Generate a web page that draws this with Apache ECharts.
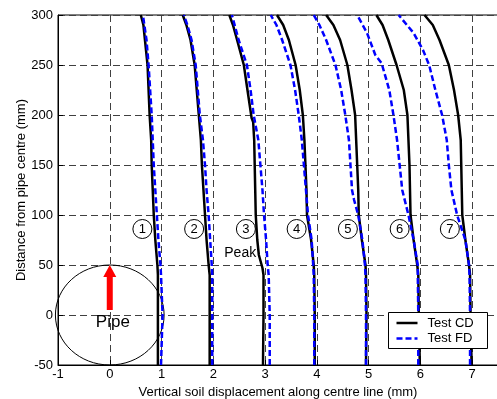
<!DOCTYPE html>
<html><head><meta charset="utf-8">
<script src="https://cdn.jsdelivr.net/npm/echarts@6/dist/echarts.min.js"></script>
<style>html,body{margin:0;padding:0;background:#fff}#c{width:497px;height:399px}</style>
</head><body><div id="c"></div>
<script>
// [displacement (mm), distance (mm)]
const CD1 = [[0.93,-50],[0.93,0],[0.93,40],[0.92,50],[0.88,75],[0.85,100],[0.83,125],[0.81,150],[0.80,175],[0.77,200],[0.75,225],[0.73,250],[0.68,275],[0.65,290],[0.60,300]];
const FD1 = [[0.99,-50],[1.02,0],[0.99,40],[0.98,50],[0.94,75],[0.91,100],[0.88,125],[0.85,150],[0.83,175],[0.81,200],[0.78,225],[0.75,250],[0.71,275],[0.64,300]];
const CD2 = [[1.93,-50],[1.93,0],[1.93,40],[1.91,50],[1.87,75],[1.84,100],[1.81,125],[1.78,150],[1.76,175],[1.72,200],[1.68,225],[1.64,250],[1.56,275],[1.48,290],[1.41,300]];
const FD2 = [[1.98,-50],[1.98,0],[1.98,40],[1.97,50],[1.94,75],[1.91,100],[1.87,125],[1.84,150],[1.80,175],[1.74,200],[1.70,225],[1.66,250],[1.58,275],[1.50,290],[1.43,300]];
const CD3 = [[2.96,-50],[2.97,0],[2.97,40],[2.95,47],[2.88,60],[2.85,75],[2.82,100],[2.81,125],[2.80,150],[2.79,175],[2.77,193],[2.74,197],[2.66,225],[2.59,250],[2.46,275],[2.38,290],[2.31,300]];
const FD3 = [[3.09,-50],[3.09,0],[3.07,40],[3.05,50],[3.02,75],[2.98,100],[2.95,125],[2.91,150],[2.87,175],[2.78,200],[2.72,225],[2.65,250],[2.49,275],[2.36,300]];
const CD4 = [[3.96,-50],[3.96,0],[3.95,40],[3.94,50],[3.89,75],[3.81,100],[3.80,125],[3.78,150],[3.76,175],[3.73,200],[3.67,225],[3.59,250],[3.46,275],[3.35,290],[3.23,300]];
const FD4 = [[3.95,-50],[3.95,0],[3.94,40],[3.93,50],[3.90,75],[3.83,100],[3.79,125],[3.75,150],[3.71,175],[3.65,200],[3.58,225],[3.49,250],[3.33,275],[3.22,290],[3.11,300]];
const CD5 = [[4.95,-50],[4.96,0],[4.95,40],[4.94,50],[4.87,75],[4.81,100],[4.80,125],[4.78,150],[4.76,175],[4.74,200],[4.67,225],[4.59,250],[4.45,275],[4.32,290],[4.18,300]];
const FD5 = [[4.95,-50],[4.95,0],[4.94,40],[4.93,50],[4.88,75],[4.80,100],[4.72,115],[4.68,125],[4.65,150],[4.62,175],[4.55,200],[4.47,225],[4.36,250],[4.18,275],[4.05,290],[3.94,300]];
const CD6 = [[5.99,-50],[5.97,0],[5.96,40],[5.94,50],[5.87,75],[5.81,100],[5.80,125],[5.79,150],[5.77,175],[5.75,200],[5.68,225],[5.54,250],[5.38,275],[5.27,290],[5.15,300]];
const FD6 = [[5.96,-50],[5.96,0],[5.95,40],[5.95,50],[5.87,75],[5.77,100],[5.65,125],[5.60,150],[5.55,175],[5.48,200],[5.40,225],[5.25,252],[5.13,260],[4.97,282],[4.78,300]];
const CD7 = [[6.99,-50],[6.97,0],[6.96,40],[6.94,50],[6.87,75],[6.81,100],[6.80,125],[6.79,150],[6.78,175],[6.73,200],[6.65,225],[6.55,250],[6.37,275],[6.24,290],[6.08,300]];
const FD7 = [[6.96,-50],[6.96,0],[6.95,40],[6.94,50],[6.87,75],[6.71,100],[6.60,125],[6.55,150],[6.51,175],[6.42,200],[6.29,225],[6.17,250],[6.05,265],[5.87,282],[5.58,300]];

const circleLabels = ['1','2','3','4','5','6','7'];
const circleX = [0.63,1.63,2.63,3.61,4.60,5.60,6.57];
const circleY = [86,86,86,86,86,86,86];
const pipeEllipse = [0, 0, 1.05, 50];      // centre x, centre y, radius x, radius y
const arrowBase = [0, 5];
const arrowTip = [0, 50];
const notes = [[2.52, 62, 'Peak', 14], [0.06, -7, 'Pipe', 17]];

const xName = 'Vertical soil displacement along centre line (mm)';
const yName = 'Distance from pipe centre (mm)';
const legendNames = ['Test CD', 'Test FD'];

const FONT = '"Liberation Sans", Arial, Helvetica, sans-serif';
const chart = echarts.init(document.getElementById('c'));
const cdSets = [CD1, CD2, CD3, CD4, CD5, CD6, CD7];
const fdSets = [FD1, FD2, FD3, FD4, FD5, FD6, FD7];
const cdStyle = { color: '#000', width: 2.5 };
const fdStyle = { color: '#0000ff', width: 2.5, type: [6, 3] };
const series = [];

series.push({
  type: 'custom', silent: true, z: 1, clip: false,
  data: [pipeEllipse],
  renderItem: (p, api) => {
    const c = api.coord([api.value(0), api.value(1)]);
    const rx = api.size([api.value(2), 0])[0];
    const ry = api.size([0, api.value(3)])[1];
    return { type: 'ellipse', shape: { cx: c[0], cy: c[1], rx: rx, ry: ry },
      style: { fill: null, stroke: '#000', lineWidth: 1 } };
  }
});

cdSets.forEach(d => series.push({
  type: 'line', name: legendNames[0], data: d, symbol: 'none', z: 3,
  lineStyle: cdStyle, itemStyle: { color: '#000' }
}));
fdSets.forEach(d => series.push({
  type: 'line', name: legendNames[1], data: d, symbol: 'none', z: 4,
  lineStyle: fdStyle, itemStyle: { color: '#0000ff' }
}));

series.push({
  type: 'custom', silent: true, z: 5, clip: false,
  data: [[arrowBase[0], arrowBase[1], arrowTip[0], arrowTip[1]]],
  renderItem: (p, api) => {
    const b = api.coord([api.value(0), api.value(1)]);
    const t = api.coord([api.value(2), api.value(3)]);
    const hl = 12, sh = 3, hh = 6.5;
    return { type: 'polygon', shape: { points: [
      [b[0]-sh, b[1]], [b[0]-sh, t[1]+hl], [t[0]-hh, t[1]+hl], [t[0], t[1]],
      [t[0]+hh, t[1]+hl], [b[0]+sh, t[1]+hl], [b[0]+sh, b[1]] ] },
      style: { fill: '#ff0000', stroke: null } };
  }
});

series.push({
  type: 'custom', silent: true, z: 6, clip: false,
  data: circleX.map((x, i) => [x, circleY[i]]),
  renderItem: (p, api) => {
    const c = api.coord([api.value(0), api.value(1)]);
    return { type: 'group', children: [
      { type: 'circle', shape: { cx: c[0], cy: c[1], r: 9.5 }, style: { fill: null, stroke: '#000', lineWidth: 1 } },
      { type: 'text', x: c[0], y: c[1] + 0.5, style: { text: circleLabels[p.dataIndex], font: '13px ' + FONT, fill: '#000', align: 'center', verticalAlign: 'middle' } }
    ] };
  }
});

series.push({
  type: 'custom', silent: true, z: 6, clip: false,
  data: notes.map(n => [n[0], n[1]]),
  renderItem: (p, api) => {
    const c = api.coord([api.value(0), api.value(1)]);
    const n = notes[p.dataIndex];
    return { type: 'text', x: c[0], y: c[1], style: { text: n[2], font: n[3] + 'px ' + FONT, fill: '#000', align: 'center', verticalAlign: 'middle' } };
  }
});

const axisCommon = {
  type: 'value',
  axisLine: { show: true, onZero: false, lineStyle: { color: '#000', width: 1 } },
  axisTick: { show: true, inside: true, length: 5, lineStyle: { color: '#000' } },
  splitLine: { show: true, lineStyle: { color: '#404040', width: 1, type: [7, 4] } },
  nameLocation: 'middle',
  nameTextStyle: { color: '#000', fontSize: 13, fontFamily: FONT }
};

// legend box drawn as graphic (pixel layout)
const LG = { x: 388, y: 312, w: 99, h: 36 };
const legendGraphic = {
  type: 'group', left: LG.x, top: LG.y, zlevel: 1, z: 100, children: [
    { type: 'rect', z: 100, shape: { x: 0, y: 0, width: LG.w, height: LG.h }, style: { fill: '#fff', stroke: '#000', lineWidth: 1 } },
    { type: 'line', z: 101, shape: { x1: 8, y1: 10.5, x2: 29, y2: 10.5 }, style: { stroke: cdStyle.color, lineWidth: cdStyle.width } },
    { type: 'line', z: 101, shape: { x1: 8, y1: 26, x2: 29, y2: 26 }, style: { stroke: fdStyle.color, lineWidth: fdStyle.width, lineDash: fdStyle.type } },
    { type: 'text', z: 101, x: 39, y: 10.5, style: { text: legendNames[0], font: '13px ' + FONT, fill: '#000', verticalAlign: 'middle' } },
    { type: 'text', z: 101, x: 39, y: 26, style: { text: legendNames[1], font: '13px ' + FONT, fill: '#000', verticalAlign: 'middle' } }
  ]
};

chart.setOption({
  animation: false,
  backgroundColor: '#fff',
  grid: { left: 58, right: -1, top: 15, bottom: 34, show: true, borderColor: '#000', borderWidth: 1, backgroundColor: 'transparent', containLabel: false, outerBoundsMode: 'none' },
  xAxis: Object.assign({}, axisCommon, {
    min: -1, max: 7.5, interval: 1, name: xName, nameGap: 20,
    axisLabel: { color: '#000', fontSize: 13, fontFamily: FONT, margin: 3,
      formatter: v => Number.isInteger(v) ? String(v) : '' }
  }),
  yAxis: Object.assign({}, axisCommon, {
    min: -50, max: 300, interval: 50, name: yName, nameGap: 30, nameMoveOverlap: false,
    axisLabel: { color: '#000', fontSize: 13, fontFamily: FONT, margin: 5 }
  }),
  graphic: [legendGraphic],
  series: series
});
</script></body></html>
